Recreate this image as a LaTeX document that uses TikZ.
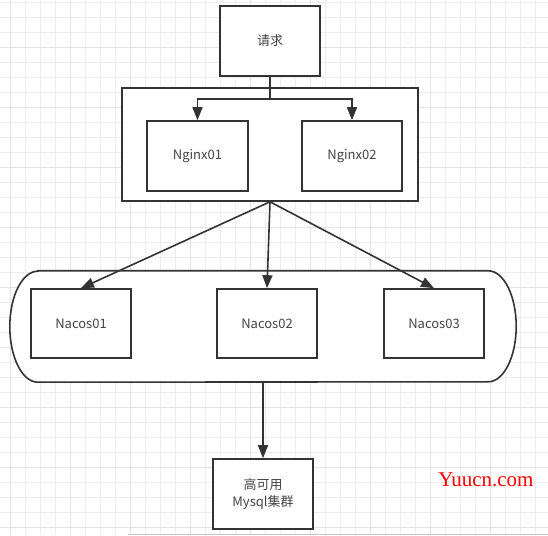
\documentclass[tikz,border=0pt]{standalone}
\usepackage{fontspec}
\setmainfont{Noto Sans CJK SC}
\newfontfamily\wmfont{Liberation Serif}
\usepackage{tikz}
\usetikzlibrary{arrows.meta, positioning}

\definecolor{linegray}{HTML}{333333}
\definecolor{txtgray}{HTML}{444444}

\begin{document}
\begin{tikzpicture}[x=1pt, y=1pt,
        box/.style={rectangle, draw=linegray, fill=white, line width=1.6pt, minimum width=100pt, minimum height=70pt, align=center, text=txtgray, font=\fontsize{13}{17}\selectfont},
        group/.style={rectangle, draw=linegray, fill=white, line width=1.6pt},
        flow/.style={-{Triangle[length=13pt,width=10pt]}, line width=1.6pt, linegray},
        link/.style={line width=1.6pt, linegray},
        gridminor/.style={draw=black!7, line width=0.8pt},
        gridmajor/.style={draw=black!11, line width=0.8pt}
    ]
    \useasboundingbox (0,0) rectangle (548,535);
    \fill[white] (0,0) rectangle (548,535);

    % background grid
    \foreach \gx in {10,25,...,545} \draw[gridminor] (\gx,0) -- (\gx,535);
    \foreach \gy in {533,518,...,0} \draw[gridminor] (0,\gy) -- (548,\gy);
    \foreach \gx in {10,70,...,545} \draw[gridmajor] (\gx,0) -- (\gx,535);
    \foreach \gy in {488,428,...,0} \draw[gridmajor] (0,\gy) -- (548,\gy);
    \fill[black!22] (128,0) rectangle (548,1.5);

    % request and nginx layer
    \node[box] (req) at (270, 494) {请求};
    \node[group, minimum width=296pt, minimum height=113pt] (ngxgrp) at (270, 390.5) {};
    \node[box, minimum width=101pt] (ngx1) at (197.5, 379) {Nginx01};
    \node[box] (ngx2) at (352, 379) {Nginx02};
    \coordinate (split) at (270, 436);

    \draw[link] (req.south) -- (split);
    \draw[flow] (split) -| (ngx1.north);
    \draw[flow] (split) -| (ngx2.north);

    % nacos cluster
    \node[minimum width=506pt, minimum height=111pt, inner sep=0pt] (nacosgrp) at (263, 208.5) {};
    \draw[link, fill=white] ([xshift=28pt]nacosgrp.north west) -- ([xshift=-28pt]nacosgrp.north east)
        arc[start angle=90, end angle=-90, x radius=28pt, y radius=55.5pt]
        -- ([xshift=28pt]nacosgrp.south west)
        arc[start angle=270, end angle=90, x radius=28pt, y radius=55.5pt] -- cycle;
    \node[box, minimum height=69pt] (nacos1) at (81, 211.5) {Nacos01};
    \node[box, minimum height=69pt] (nacos2) at (267, 211.5) {Nacos02};
    \node[box, minimum height=69pt] (nacos3) at (434, 211.5) {Nacos03};

    \draw[flow] (ngxgrp.south) -- (nacos1.north);
    \draw[flow] (ngxgrp.south) -- (nacos2.north);
    \draw[flow] (ngxgrp.south) -- (nacos3.north);

    % mysql
    \node[box] (mysql) at (263, 41) {高可用\\Mysql集群};
    \draw[flow] (nacosgrp.south) -- (mysql.north);

    \node[text=red, font=\wmfont\fontsize{21}{23}\selectfont] (mark) at (486, 55) {Yuucn.com};
\end{tikzpicture}
\end{document}
